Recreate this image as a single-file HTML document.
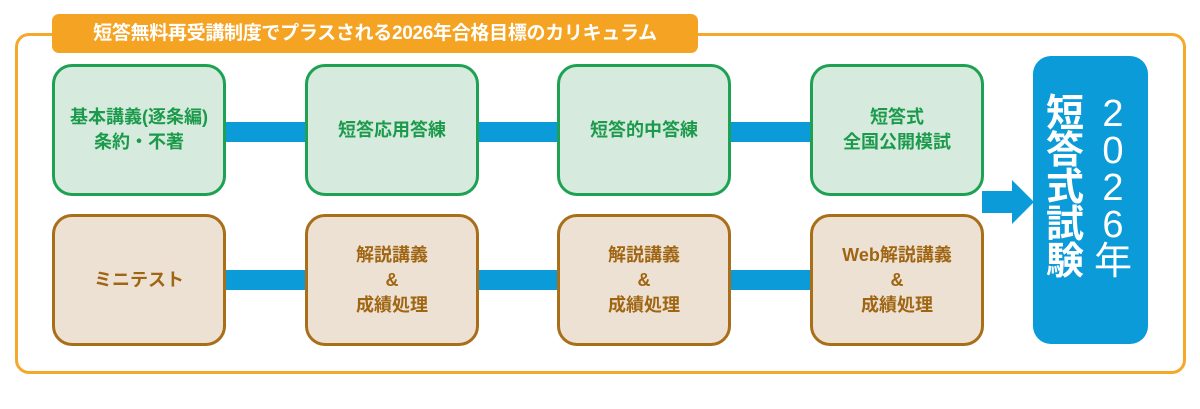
<!DOCTYPE html>
<html><head><meta charset="utf-8"><style>
body{margin:0;width:1200px;height:409px;background:#fff;position:relative;overflow:hidden;font-family:"Liberation Sans","Noto Sans CJK JP",sans-serif;font-weight:bold}
.a{position:absolute;box-sizing:border-box}
.outer{left:15px;top:33px;width:1171px;height:341px;border:3px solid #f5a82a;border-radius:14px}
.title{left:52px;top:14px;width:646px;height:39px;background:#f5a323;border-radius:7px;color:#fff;font-size:19px;line-height:39px;text-align:center;letter-spacing:-0.3px}
.g,.b{width:174px;height:132px;border-radius:20px;border:3px solid;display:flex;align-items:center;justify-content:center;text-align:center;font-size:18px;line-height:25px}
.g{background:#d6ebdd;border-color:#1ea152;color:#1c9a4c;top:64px}
.b{background:#ece1d3;border-color:#a86e18;color:#a06512;top:214px}
.bar{background:#0a9bd8;height:20px}
.final{left:1033px;top:56px;width:115px;height:288px;background:#0a9bd8;border-radius:18px}
.vt{color:#fff;font-size:38px;line-height:37px;width:44px;text-align:center}
</style></head><body>
<div class="a outer"></div>
<div class="a title">短答無料再受講制度でプラスされる2026年合格目標のカリキュラム</div>

<div class="a bar" style="left:224px;top:122px;width:84px"></div>
<div class="a bar" style="left:477px;top:122px;width:84px"></div>
<div class="a bar" style="left:729px;top:122px;width:84px"></div>
<div class="a bar" style="left:224px;top:270px;width:84px"></div>
<div class="a bar" style="left:477px;top:270px;width:84px"></div>
<div class="a bar" style="left:729px;top:270px;width:84px"></div>

<div class="a g" style="left:52px">基本講義(逐条編)<br>条約・不著</div>
<div class="a g" style="left:305px">短答応用答練</div>
<div class="a g" style="left:557px">短答的中答練</div>
<div class="a g" style="left:810px">短答式<br>全国公開模試</div>
<div class="a b" style="left:52px">ミニテスト</div>
<div class="a b" style="left:305px">解説講義<br>&amp;<br>成績処理</div>
<div class="a b" style="left:557px">解説講義<br>&amp;<br>成績処理</div>
<div class="a b" style="left:810px">Web解説講義<br>&amp;<br>成績処理</div>

<svg class="a" style="left:982px;top:180px" width="52" height="44"><polygon points="0,11 30,11 30,0 52,22 30,44 30,33 0,33" fill="#0a9bd8"/></svg>

<div class="a final"></div>
<div class="a vt" style="left:1043px;top:96px;font-weight:bold">短<br>答<br>式<br>試<br>験</div>
<div class="a vt" style="left:1091px;top:96px;font-weight:normal">2<br>0<br>2<br>6<br>年</div>
</body></html>
